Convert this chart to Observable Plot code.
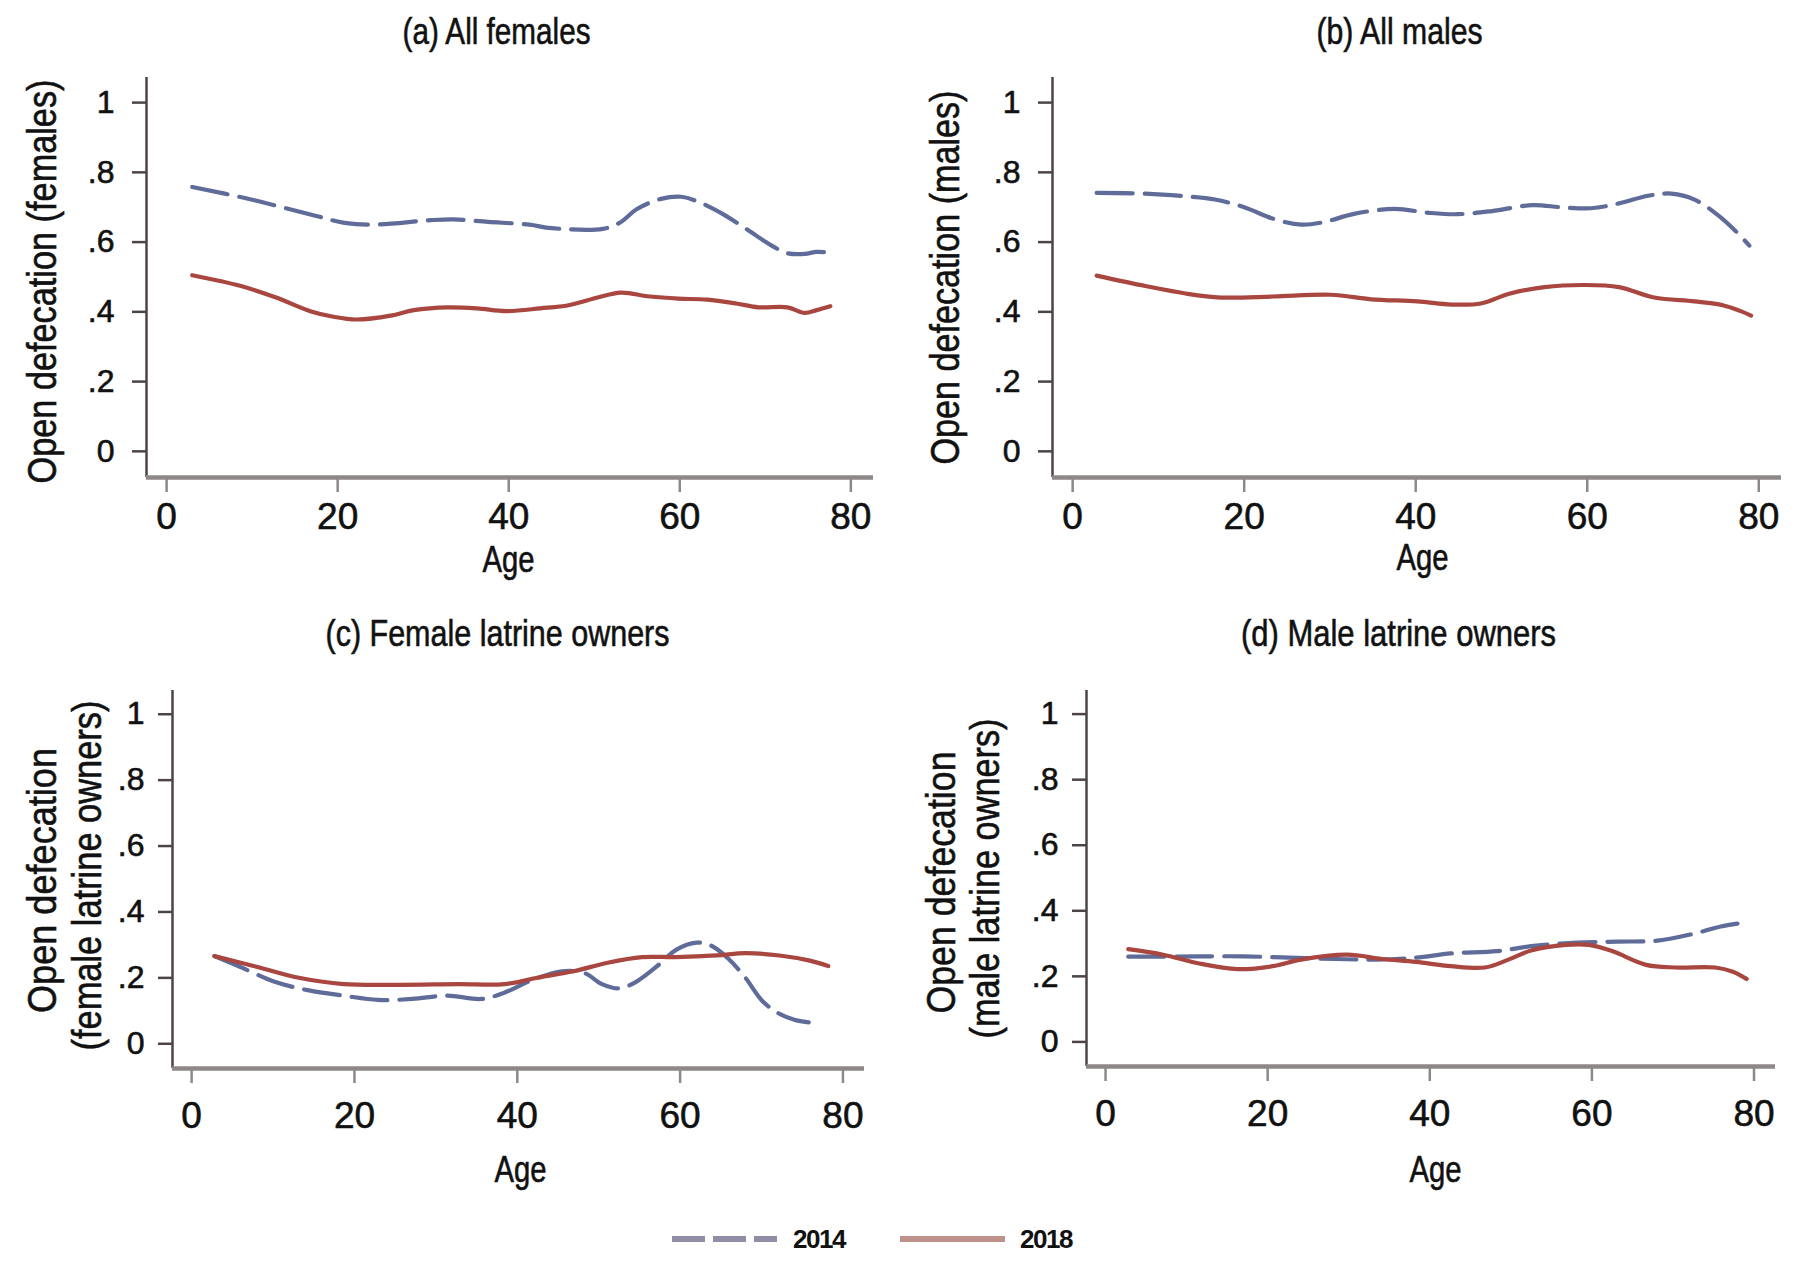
<!DOCTYPE html>
<html><head><meta charset="utf-8">
<script src="https://cdn.jsdelivr.net/npm/d3@7"></script>
<script src="https://cdn.jsdelivr.net/npm/@observablehq/plot@0.6"></script>
<style>
html,body{margin:0;padding:0;background:#fff;}
body{width:1800px;height:1274px;position:relative;overflow:hidden;font-family:"Liberation Sans",Arial,sans-serif;}
.panel{position:absolute;}
#legend{position:absolute;left:0;top:1214px;width:1800px;height:50px;}
#legend .item{position:absolute;top:0;height:50px;display:flex;align-items:center;}
#legend span{font-family:"Liberation Sans",Arial,sans-serif;font-weight:bold;font-size:26px;color:#111;letter-spacing:-1.5px;}
</style></head><body>
<div id="pa" class="panel" style="left:0;top:0"></div>
<div id="pb" class="panel" style="left:900px;top:0"></div>
<div id="pc" class="panel" style="left:0;top:600px"></div>
<div id="pd" class="panel" style="left:900px;top:600px"></div>
<div id="legend"></div>
<script>
// ---- data ----
const years = ["2014", "2018"];
const panelTitles = ["(a) All females", "(b) All males", "(c) Female latrine owners", "(d) Male latrine owners"];
const yAxisLabels = [["Open defecation (females)"], ["Open defecation (males)"],
  ["Open defecation", "(female latrine owners)"], ["Open defecation", "(male latrine owners)"]];
const xAxisLabel = "Age";
const xTicks = [0, 20, 40, 60, 80];
const yTicks = [0, 0.2, 0.4, 0.6, 0.8, 1];
const yTickLabels = ["0", ".2", ".4", ".6", ".8", "1"];

const agesA2014 = [3, 9.4, 17.5, 20.8, 24.2, 30.9, 33.6, 37.6, 42.4, 45, 51, 53, 55, 57.8, 60.2, 62.5, 65.2, 68, 70.6, 72.6, 74.6, 76, 77.6];
const valsA2014 = [0.758, 0.725, 0.675, 0.655, 0.650, 0.663, 0.665, 0.658, 0.650, 0.640, 0.638, 0.656, 0.695, 0.724, 0.730, 0.712, 0.678, 0.634, 0.592, 0.568, 0.566, 0.572, 0.570];
const agesA2018 = [3, 8.7, 12.8, 16.8, 19.5, 22.2, 26.2, 28.9, 32.9, 36.3, 39.7, 43.7, 47, 50.4, 53.1, 56.5, 59.8, 63.2, 66.6, 69.2, 72.6, 74.6, 76, 77.6];
const valsA2018 = [0.505, 0.474, 0.441, 0.402, 0.386, 0.378, 0.389, 0.405, 0.413, 0.41, 0.402, 0.41, 0.419, 0.441, 0.455, 0.444, 0.438, 0.435, 0.424, 0.413, 0.413, 0.397, 0.405, 0.416];

const agesB2014 = [2.8, 8.5, 13.3, 16.6, 20, 23.4, 26.7, 29.4, 32.8, 37.5, 41.5, 44.9, 48.9, 53.6, 57, 60.4, 63.7, 67.1, 69.8, 72.5, 75.2, 77.2, 78.9];
const valsB2014 = [0.741, 0.739, 0.731, 0.722, 0.700, 0.667, 0.650, 0.658, 0.681, 0.695, 0.684, 0.680, 0.689, 0.706, 0.700, 0.697, 0.711, 0.733, 0.739, 0.722, 0.678, 0.634, 0.590];
const agesB2018 = [2.8, 8.5, 13.3, 17.3, 23.4, 30.1, 34.8, 40.2, 44.2, 47.6, 50.9, 55, 59.7, 63.7, 67.8, 72.5, 75.8, 77.9, 79.1];
const valsB2018 = [0.504, 0.474, 0.452, 0.441, 0.444, 0.449, 0.436, 0.430, 0.421, 0.424, 0.452, 0.471, 0.477, 0.471, 0.441, 0.430, 0.419, 0.402, 0.389];

const agesC2014 = [2.8, 6, 10.2, 14.4, 18.7, 22.9, 27.1, 31.4, 35.6, 38.4, 41.9, 45.5, 48.3, 50.4, 52.5, 54.6, 57.4, 59.5, 62, 63.8, 65.9, 68, 70.1, 72.2, 74.3, 75.8];
const valsC2014 = [0.266, 0.233, 0.188, 0.162, 0.146, 0.133, 0.136, 0.146, 0.136, 0.155, 0.194, 0.220, 0.214, 0.181, 0.168, 0.188, 0.240, 0.285, 0.307, 0.298, 0.259, 0.201, 0.130, 0.091, 0.071, 0.065];
const agesC2018 = [2.8, 8.1, 13, 18.7, 25.7, 32.8, 38.4, 42.6, 46.9, 51.1, 55.3, 59.5, 64.5, 68, 72.2, 75.8, 78.2];
const valsC2018 = [0.266, 0.233, 0.201, 0.181, 0.179, 0.181, 0.181, 0.201, 0.220, 0.246, 0.263, 0.263, 0.268, 0.275, 0.268, 0.253, 0.236];

const agesD2014 = [2.8, 7.1, 11.4, 17, 22.7, 28.4, 33.4, 38.3, 42.6, 48.3, 52.5, 58.2, 63.2, 68.1, 72.4, 75.9, 79.1];
const valsD2014 = [0.260, 0.260, 0.261, 0.261, 0.257, 0.253, 0.251, 0.257, 0.270, 0.277, 0.292, 0.303, 0.306, 0.309, 0.329, 0.352, 0.365];
const agesD2018 = [2.8, 7.1, 11.4, 16.3, 20.6, 24.1, 29.8, 34.1, 38.3, 42.6, 46.8, 49.7, 52.5, 56.8, 59.6, 62.5, 66.7, 70.3, 75.2, 77.4, 79.1];
const valsD2018 = [0.283, 0.266, 0.240, 0.222, 0.231, 0.251, 0.266, 0.253, 0.244, 0.231, 0.227, 0.251, 0.279, 0.296, 0.296, 0.277, 0.235, 0.227, 0.227, 0.214, 0.192];

// ---- styling ----
const REG = "'Liberation Sans',Arial,sans-serif";
const col2014 = "#5f6b98";
const col2018 = "#a8463f";
const xDomain = [-2.35, 82.65];
const yDomain = [-0.075, 1.072];

const rows = (ages, vals, year) => ages.map((a, i) => ({age: a, value: vals[i], year}));

// text at a pixel position inside the panel svg (relative to the frame's top-left corner)
function label(txt, o, x, y, size, extra = {}) {
  return Plot.text([txt], {frameAnchor: "top-left", dx: x - o.ml, dy: y - o.mt,
    textAnchor: "middle", lineAnchor: "middle", fontSize: size, fontFamily: REG, fill: "#111", ...extra});
}

function panel(el, o) {
  const W = 900, H = 600;
  const d14 = rows(o.ages14, o.vals14, years[0]);
  const d18 = rows(o.ages18, o.vals18, years[1]);
  const marks = [
    Plot.axisY({ticks: yTicks, tickFormat: d => yTickLabels[yTicks.indexOf(d)], tickSize: 14, tickPadding: o.yPad,
      fontSize: 32, fontFamily: REG, stroke: "#4d4545", strokeWidth: 2.5, fill: "#111", label: null}),
    Plot.axisX({ticks: xTicks, tickSize: 15, tickPadding: o.xPad,
      fontSize: 37, fontFamily: REG, stroke: "#8f8888", strokeWidth: 2.5, fill: "#111", label: null}),
    Plot.ruleX([xDomain[0]], {stroke: "#4d4545", strokeWidth: 2.5}),
    Plot.ruleY([yDomain[0]], {stroke: "#8f8888", strokeWidth: 4.5}),
    Plot.line(d14, {x: "age", y: "value", stroke: col2014, strokeWidth: 4.2, strokeDasharray: "36,12", curve: "catmull-rom"}),
    Plot.line(d18, {x: "age", y: "value", stroke: col2018, strokeWidth: 4.2, curve: "catmull-rom"}),
    label(o.title, o, o.titleX, o.titleY, 37),
    label(xAxisLabel, o, o.ageX, o.ageY, 37)
  ];
  o.ylab.forEach((t, i) => marks.push(label(t, o, o.ylabX[i], o.ylabY[i], 40, {rotate: -90})));
  const chart = Plot.plot({
    width: W, height: H,
    marginLeft: o.ml, marginRight: o.mr, marginTop: o.mt, marginBottom: o.mb,
    style: {background: "transparent", overflow: "visible"},
    x: {domain: xDomain},
    y: {domain: yDomain},
    marks
  });
  // condense the label texts to the reference's narrow face, and make all text a touch heavier
  const lengths = new Map([[o.title, o.titleW], [xAxisLabel, 52], ...o.ylab.map((t, i) => [t, o.ylabW[i]])]);
  chart.querySelectorAll("text").forEach(t => {
    const w = lengths.get(t.textContent);
    if (w) { t.setAttribute("textLength", w); t.setAttribute("lengthAdjust", "spacingAndGlyphs"); }
    t.style.stroke = "#111"; t.style.strokeWidth = "0.6px";
  });
  document.getElementById(el).appendChild(chart);
}

panel("pa", {ages14: agesA2014, vals14: valsA2014, ages18: agesA2018, vals18: valsA2018,
  title: panelTitles[0], titleW: 188, ylab: yAxisLabels[0], ylabW: [404],
  ml: 146, mr: 27, mt: 77, mb: 123, yPad: 18, xPad: 10,
  titleX: 496, titleY: 32, ageX: 508, ageY: 560, ylabX: [43], ylabY: [281]});
panel("pb", {ages14: agesB2014, vals14: valsB2014, ages18: agesB2018, vals18: valsB2018,
  title: panelTitles[1], titleW: 166, ylab: yAxisLabels[1], ylabW: [374],
  ml: 152, mr: 19, mt: 77, mb: 123, yPad: 18, xPad: 10,
  titleX: 499, titleY: 32, ageX: 522, ageY: 558, ylabX: [46], ylabY: [277]});
panel("pc", {ages14: agesC2014, vals14: valsC2014, ages18: agesC2018, vals18: valsC2018,
  title: panelTitles[2], titleW: 344, ylab: yAxisLabels[2], ylabW: [265, 350],
  ml: 172, mr: 36, mt: 90, mb: 132, yPad: 14, xPad: 18,
  titleX: 497, titleY: 34, ageX: 520, ageY: 570, ylabX: [43, 88], ylabY: [280, 275]});
panel("pd", {ages14: agesD2014, vals14: valsD2014, ages18: agesD2018, vals18: valsD2018,
  title: panelTitles[3], titleW: 315, ylab: yAxisLabels[3], ylabW: [262, 320],
  ml: 186, mr: 25, mt: 90, mb: 134, yPad: 14, xPad: 18,
  titleX: 498, titleY: 34, ageX: 535, ageY: 570, ylabX: [42, 86], ylabY: [282, 278]});

// ---- legend ----
const legendItems = [
  {year: years[0], color: "#8f8ea6", dash: "33,8", lineX: 672, textX: 793},
  {year: years[1], color: "#bf918b", dash: null, lineX: 900, textX: 1020}
];
const leg = document.getElementById("legend");
legendItems.forEach(it => {
  const svgNS = "http://www.w3.org/2000/svg";
  const s = document.createElementNS(svgNS, "svg");
  s.setAttribute("width", 106); s.setAttribute("height", 50);
  s.style.position = "absolute"; s.style.left = it.lineX + "px"; s.style.top = "0px";
  const l = document.createElementNS(svgNS, "line");
  l.setAttribute("x1", 0); l.setAttribute("x2", 105); l.setAttribute("y1", 25); l.setAttribute("y2", 25);
  l.setAttribute("stroke", it.color); l.setAttribute("stroke-width", 6);
  if (it.dash) l.setAttribute("stroke-dasharray", it.dash);
  s.appendChild(l);
  leg.appendChild(s);
  const t = document.createElement("div");
  t.className = "item"; t.style.left = it.textX + "px";
  const sp = document.createElement("span"); sp.textContent = it.year;
  t.appendChild(sp); leg.appendChild(t);
});
</script>
</body></html>
